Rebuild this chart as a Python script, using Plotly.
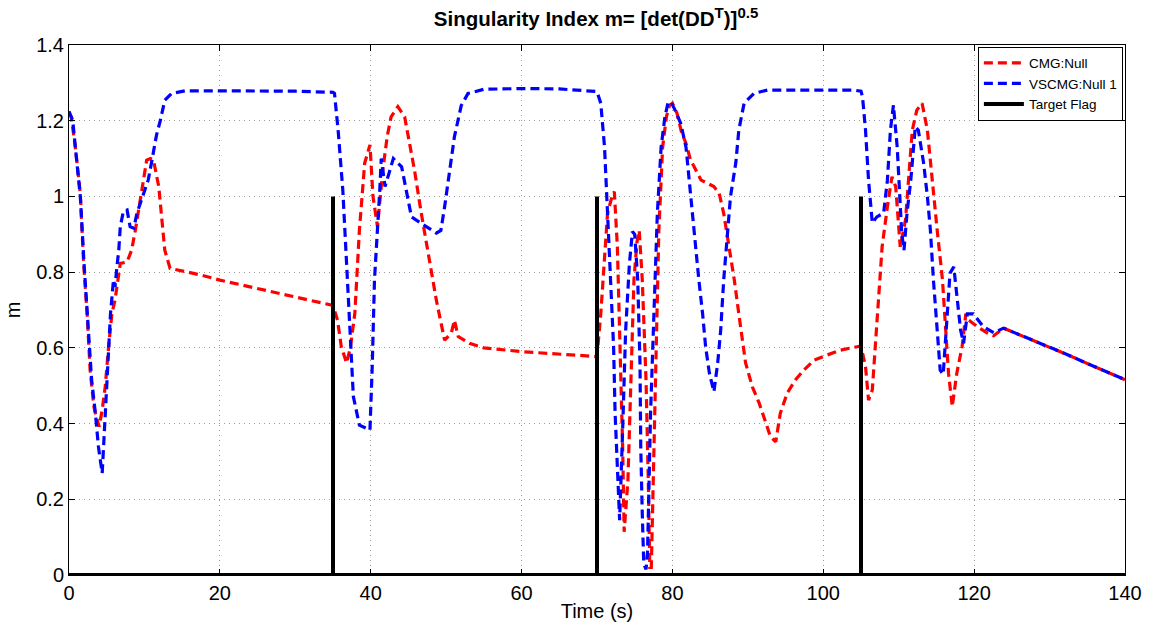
import plotly.graph_objects as go

# ---- data ----
cmg_t = [0, 0.3, 0.84, 1.5, 1.94, 2.4, 2.8, 3.3, 3.7, 4.0, 4.4, 4.8, 5.25, 5.7, 6.1, 6.35, 6.8,
         7.7, 8.3, 8.8, 9.4, 9.9, 10.3, 10.8, 11.2, 11.9, 12.3, 12.7, 13.4, 15.4, 17.6, 20, 25, 30, 35,
         35.6, 36.1, 36.8, 37.3, 37.9, 38.5, 39.2, 39.9, 40.3, 40.9, 41.6, 42.2, 42.7, 43.6, 44.5,
         45.8, 46.7, 47.6, 48.7, 49.8, 50.7, 51.1, 51.6, 53.1, 55, 60, 65, 70,
         70.5, 71.0, 71.4, 72.1, 72.3, 72.7, 73.1, 73.4, 73.6, 74.1, 74.5, 74.9, 75.3, 75.6, 76.0,
         76.5, 76.8, 77.0, 77.2, 77.5, 77.8, 78.2, 78.7, 79.2, 79.6, 80.0, 80.6, 81.2, 81.8, 82.4,
         82.9, 83.8, 85.5, 86.2, 86.8, 87.5, 88.2, 88.8, 89.7, 90.6, 91.5, 92.4, 93.0, 93.7, 94.3,
         95.2, 96.3, 97.4, 98.8, 100.5, 102.3, 104.5, 105,
         105.6, 106.0, 106.5, 106.9, 107.4, 107.8, 108.5, 109.1, 109.6, 109.9, 110.2, 110.9, 111.3,
         111.8, 112.4, 113.1, 113.8, 114.4, 115.1, 115.8, 116.2, 116.6, 117.1, 117.7, 118.4, 118.9,
         119.3, 120.4, 121.7, 122.6, 123.9, 126.1, 128.8, 132, 136, 140]
cmg_m = [1.22, 1.21, 1.13, 1.008, 0.823, 0.692, 0.541, 0.445, 0.41, 0.392, 0.436, 0.497, 0.603, 0.692,
         0.726, 0.761, 0.823, 0.827, 0.858, 0.911, 0.982, 1.052, 1.096, 1.10, 1.096, 1.026, 0.938,
         0.858, 0.81, 0.801, 0.792, 0.779, 0.757, 0.735, 0.712,
         0.673, 0.603, 0.56, 0.60, 0.692, 0.911, 1.088, 1.136, 1.0, 0.92, 1.07, 1.16, 1.21, 1.237,
         1.21, 1.07, 0.956, 0.85, 0.726, 0.62, 0.64, 0.673, 0.63, 0.612, 0.60, 0.59, 0.583, 0.577,
         0.69, 0.823, 0.956, 1.008, 1.012, 0.867, 0.603, 0.339, 0.114, 0.25, 0.515, 0.78, 0.88, 0.91,
         0.78, 0.515, 0.25, 0.02, 0.02, 0.30, 0.603, 0.91, 1.13, 1.21, 1.24, 1.246, 1.22, 1.17,
         1.14, 1.096, 1.078, 1.043, 1.026, 1.008, 0.955, 0.867, 0.78, 0.69, 0.56, 0.497, 0.454,
         0.401, 0.365, 0.352, 0.427, 0.48, 0.515, 0.541, 0.568, 0.581, 0.594, 0.603, 0.605,
         0.55, 0.462, 0.489, 0.603, 0.735, 0.867, 0.973, 1.052, 1.026, 0.955, 0.867, 0.938, 1.043,
         1.175, 1.228, 1.246, 1.175, 1.043, 0.911, 0.78, 0.647, 0.533, 0.445, 0.533, 0.603, 0.69,
         0.673, 0.656, 0.64, 0.632, 0.652, 0.634, 0.612, 0.585, 0.55, 0.516]

vscmg_t = [0, 0.5, 0.84, 1.5, 2.0, 2.4, 3.0, 3.5, 3.9, 4.4, 4.6, 4.8, 5.25, 5.5, 5.9, 6.1, 6.35,
           6.6, 6.8, 7.2, 7.7, 8.1, 8.6, 9.0, 9.9, 10.5, 11.0, 11.6, 12.1, 12.7, 13.6, 15.4, 20, 30, 35,
           35.2, 35.7, 36.3, 37.0, 37.7, 38.5, 39.9, 40.2, 40.5, 41.2, 41.4, 41.9, 42.5, 43.0, 44.1,
           45.4, 46.7, 48.7, 49.3, 49.8, 51.1, 52.0, 52.9, 55, 60, 65, 70,
           70.5, 71.0, 71.2, 71.4, 71.6, 71.9, 72.2, 72.4, 72.7, 73.0, 73.4, 73.8, 74.3, 74.7, 75.0,
           75.4, 75.7, 75.8, 76.0, 76.2, 76.5, 76.7, 77.1, 77.6, 78.0, 78.5, 79.0, 79.4, 79.8, 80.3,
           81.1, 81.8, 82.2, 82.7, 83.1, 83.5, 84.0, 84.4, 84.9, 85.3, 85.5, 86.0, 86.4, 86.8, 87.3,
           87.7, 88.4, 88.8, 89.5, 90.8, 92.6, 100, 104, 105,
           105.2, 105.6, 106.0, 106.5, 107.1, 108.0, 108.5, 108.9, 109.3, 109.8, 110.2, 110.4, 110.7,
           111.1, 111.6, 112.2, 112.6, 113.3, 113.8, 114.2, 114.6, 115.1, 115.5, 115.9, 116.4, 116.8,
           117.3, 117.7, 118.2, 118.6, 119.1, 119.9, 121.2, 122.6, 123.9, 126.1, 128.8, 132, 136, 140]
vscmg_m = [1.225, 1.20, 1.13, 1.0, 0.82, 0.69, 0.515, 0.427, 0.339, 0.269, 0.339, 0.427, 0.603,
           0.69, 0.78, 0.761, 0.814, 0.858, 0.92, 0.96, 0.964, 0.92, 0.916, 0.955, 1.008, 1.043,
           1.096, 1.162, 1.20, 1.254, 1.272, 1.279, 1.279, 1.278, 1.275,
           1.272, 1.17, 1.017, 0.745, 0.471, 0.396, 0.383, 0.55, 0.78, 1.017, 1.10, 1.026, 1.07,
           1.10, 1.078, 0.946, 0.929, 0.903, 0.91, 0.973, 1.158, 1.24, 1.272, 1.283, 1.285, 1.284,
           1.277,
           1.246, 1.13, 1.04, 0.955, 0.867, 0.735, 0.603, 0.427, 0.295, 0.145, 0.383, 0.647, 0.823,
           0.907, 0.90, 0.78, 0.56, 0.339, 0.163, 0.03, 0.015, 0.06, 0.427, 0.69, 0.955, 1.13, 1.21,
           1.246, 1.25, 1.23, 1.193, 1.13, 1.043, 0.955, 0.867, 0.78, 0.69, 0.603, 0.533, 0.497,
           0.484, 0.56, 0.647, 0.78, 0.911, 1.0, 1.088, 1.175, 1.246, 1.272, 1.281, 1.281, 1.281,
           1.278,
           1.263, 1.175, 1.043, 0.93, 0.946, 0.956, 1.043, 1.175, 1.241, 1.13, 1.0, 0.902, 0.858,
           0.956, 1.043, 1.184, 1.175, 1.088, 1.0, 0.911, 0.78, 0.647, 0.541, 0.53, 0.69, 0.797,
           0.814, 0.735, 0.647, 0.612, 0.69, 0.69, 0.656, 0.64, 0.652, 0.634, 0.612, 0.585, 0.55,
           0.516]

flag_t = [0, 35, 35, 35, 70, 70, 70, 105, 105, 105, 140]
flag_v = [0, 0, 1, 0, 0, 1, 0, 0, 1, 0, 0]

x_ticks = [0, 20, 40, 60, 80, 100, 120, 140]
y_ticks = [0, 0.2, 0.4, 0.6, 0.8, 1, 1.2, 1.4]
y_tick_text = ["0", "0.2", "0.4", "0.6", "0.8", "1", "1.2", "1.4"]

FONT = "Liberation Sans, Arial, Helvetica, sans-serif"

fig = go.Figure()
fig.add_trace(go.Scatter(x=cmg_t, y=cmg_m, mode="lines", name="CMG:Null",
                         line=dict(color="#ff0000", width=3.2, dash="9px,5px")))
fig.add_trace(go.Scatter(x=vscmg_t, y=vscmg_m, mode="lines", name="VSCMG:Null 1",
                         line=dict(color="#0000ff", width=3.2, dash="9px,5px")))
fig.add_trace(go.Scatter(x=flag_t, y=flag_v, mode="lines", name="Target Flag",
                         line=dict(color="#000000", width=4)))

axis_common = dict(
    showline=True, linecolor="black", linewidth=1, mirror="ticks",
    ticks="inside", ticklen=6, tickcolor="black", tickwidth=1,
    showgrid=True, gridcolor="#9a9a9a", griddash="1px,4px", gridwidth=1,
    zeroline=False, tickfont=dict(family=FONT, size=20, color="black"),
)

title_text = ("<b>Singularity Index m= [det(DD<sup><span style='font-size:15px'>T</span></sup>)]"
              "<sup><span style='font-size:15px'>0.5</span></sup></b>")

fig.update_layout(
    width=1155, height=630,
    margin=dict(l=67, r=30, t=45, b=55),
    paper_bgcolor="white", plot_bgcolor="white",
    font=dict(family=FONT, color="black"),
    title=dict(text=title_text,
               x=596 / 1155, xanchor="center", y=1 - 19 / 630, yanchor="middle",
               font=dict(family=FONT, size=20.5, color="black")),
    xaxis=dict(range=[0, 140], tickvals=x_ticks,
               title=dict(text="Time (s)", font=dict(family=FONT, size=20), standoff=0),
               **axis_common),
    yaxis=dict(range=[0, 1.4], tickvals=y_ticks, ticktext=y_tick_text,
               title=dict(text="m", font=dict(family=FONT, size=20), standoff=10),
               **axis_common),
    legend=dict(x=0.998, y=0.997, xanchor="right", yanchor="top",
                bgcolor="white", bordercolor="black", borderwidth=1,
                font=dict(family=FONT, size=13.5, color="black"),
                itemwidth=40, tracegroupgap=0),
    showlegend=True,
)

fig.write_html("out.html")
